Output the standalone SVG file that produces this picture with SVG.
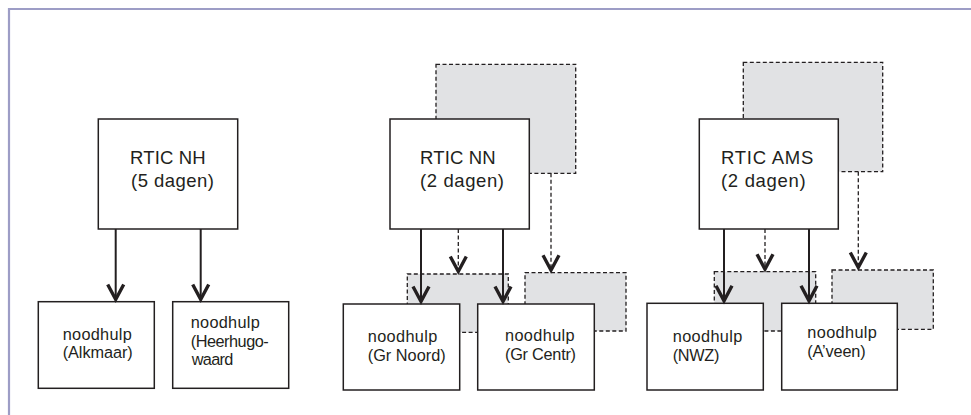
<svg xmlns="http://www.w3.org/2000/svg" width="971" height="415" viewBox="0 0 971 415">
  <style>
    .frame { fill: none; stroke: #9d9dc6; stroke-width: 2.2; }
    .box { fill: #ffffff; stroke: #231f20; stroke-width: 1.5; }
    .ghost { fill: #e1e2e4; stroke: #231f20; stroke-width: 1.3; stroke-dasharray: 4 2.5; }
    .title { font-family: "Liberation Sans", Arial, sans-serif; font-size: 18.5px; fill: #231f20; }
    .label { font-family: "Liberation Sans", Arial, sans-serif; font-size: 16.3px; fill: #231f20; }
    .link { fill: none; stroke: #231f20; stroke-width: 2; }
    .link-dash { fill: none; stroke: #231f20; stroke-width: 1.3; stroke-dasharray: 4 2.5; }
  </style>
  <defs>
    <marker id="arrow" viewBox="-20 -11 25 22" refX="0" refY="0" markerWidth="25" markerHeight="22" markerUnits="userSpaceOnUse" orient="auto">
      <path d="M-15,-8 L0,0 L-15,8" fill="none" stroke="#231f20" stroke-width="3.4"/>
    </marker>
  </defs>

  <rect width="971" height="415" fill="#ffffff"/>
  <!-- page frame: top and left rule -->
  <path class="frame" d="M9,415 V9 H971"/>

  <!-- shadow boxes behind the regional centres -->
  <g id="nn-extra"><rect class="ghost" x="436" y="64.3" width="139.7" height="109"/></g>
  <g id="ams-extra"><rect class="ghost" x="743.3" y="62.3" width="139.4" height="109.4"/></g>

  <!-- regional centres -->
  <g id="rtic-nh">
    <rect class="box" x="98.3" y="119" width="139.4" height="110"/>
    <text class="title" x="130" y="164" textLength="75.7" lengthAdjust="spacing">RTIC NH</text>
    <text class="title" x="131" y="187" textLength="83" lengthAdjust="spacing">(5 dagen)</text>
  </g>
  <g id="rtic-nn">
    <rect class="box" x="390" y="119" width="139.3" height="110"/>
    <text class="title" x="420" y="164" textLength="75.7" lengthAdjust="spacing">RTIC NN</text>
    <text class="title" x="420" y="187" textLength="84" lengthAdjust="spacing">(2 dagen)</text>
  </g>
  <g id="rtic-ams">
    <rect class="box" x="699.3" y="119" width="139" height="110"/>
    <text class="title" x="721" y="164" textLength="92.3" lengthAdjust="spacing">RTIC AMS</text>
    <text class="title" x="721" y="187" textLength="84.7" lengthAdjust="spacing">(2 dagen)</text>
  </g>

  <!-- shadow boxes behind the emergency departments -->
  <g id="nn-extra-1"><rect class="ghost" x="407.3" y="274" width="101" height="58.3"/></g>
  <g id="nn-extra-2"><rect class="ghost" x="525" y="272.7" width="101" height="58.3"/></g>
  <g id="ams-extra-1"><rect class="ghost" x="714.3" y="271.7" width="101.4" height="59.3"/></g>
  <g id="ams-extra-2"><rect class="ghost" x="832" y="270" width="101.3" height="59.3"/></g>

  <!-- emergency departments -->
  <g id="nh-alkmaar">
    <rect class="box" x="38.3" y="301.7" width="116" height="86.6"/>
    <text class="label" x="62.7" y="340" textLength="69" lengthAdjust="spacing">noodhulp</text>
    <text class="label" x="62.7" y="358.3" textLength="70" lengthAdjust="spacing">(Alkmaar)</text>
  </g>
  <g id="nh-heerhugowaard">
    <rect class="box" x="172.7" y="301.7" width="116" height="86.6"/>
    <text class="label" x="190.7" y="328.3" textLength="69" lengthAdjust="spacing">noodhulp</text>
    <text class="label" x="190.7" y="346.7" textLength="78" lengthAdjust="spacing">(Heerhugo-</text>
    <text class="label" x="191.7" y="364.5" textLength="41.6" lengthAdjust="spacing">waard</text>
  </g>
  <g id="nn-noord">
    <rect class="box" x="343.3" y="304" width="116.4" height="86"/>
    <text class="label" x="367.7" y="342.3" textLength="69.6" lengthAdjust="spacing">noodhulp</text>
    <text class="label" x="367.7" y="361" textLength="78" lengthAdjust="spacing">(Gr Noord)</text>
  </g>
  <g id="nn-centr">
    <rect class="box" x="477.7" y="304" width="116.6" height="86"/>
    <text class="label" x="505" y="340.7" textLength="69.6" lengthAdjust="spacing">noodhulp</text>
    <text class="label" x="505" y="360" textLength="71" lengthAdjust="spacing">(Gr Centr)</text>
  </g>
  <g id="ams-nwz">
    <rect class="box" x="647" y="303.3" width="116.3" height="86.7"/>
    <text class="label" x="672.7" y="341.7" textLength="69.6" lengthAdjust="spacing">noodhulp</text>
    <text class="label" x="672.7" y="360.7" textLength="46.6" lengthAdjust="spacing">(NWZ)</text>
  </g>
  <g id="ams-aveen">
    <rect class="box" x="781.7" y="303.3" width="115.6" height="86.7"/>
    <text class="label" x="807.3" y="338.3" textLength="69.6" lengthAdjust="spacing">noodhulp</text>
    <text class="label" x="807.3" y="357.3" textLength="58.4" lengthAdjust="spacing">(A’veen)</text>
  </g>

  <!-- connectors -->
  <g id="connectors">
    <line class="link" x1="115.7" y1="229" x2="115.7" y2="299.5" marker-end="url(#arrow)"/>
    <line class="link" x1="200.7" y1="229" x2="200.7" y2="299.5" marker-end="url(#arrow)"/>

    <line class="link-dash" x1="458.3" y1="229" x2="458.3" y2="271.5" marker-end="url(#arrow)"/>
    <line class="link-dash" x1="551" y1="173.3" x2="551" y2="270.2" marker-end="url(#arrow)"/>
    <line class="link" x1="421" y1="229" x2="421" y2="301.5" marker-end="url(#arrow)"/>
    <line class="link" x1="503" y1="229" x2="503" y2="301.5" marker-end="url(#arrow)"/>

    <line class="link-dash" x1="765" y1="229" x2="765" y2="269.2" marker-end="url(#arrow)"/>
    <line class="link-dash" x1="858.3" y1="171.7" x2="858.3" y2="267.5" marker-end="url(#arrow)"/>
    <line class="link" x1="724" y1="229" x2="724" y2="300.8" marker-end="url(#arrow)"/>
    <line class="link" x1="809" y1="229" x2="809" y2="300.8" marker-end="url(#arrow)"/>
  </g>
</svg>
